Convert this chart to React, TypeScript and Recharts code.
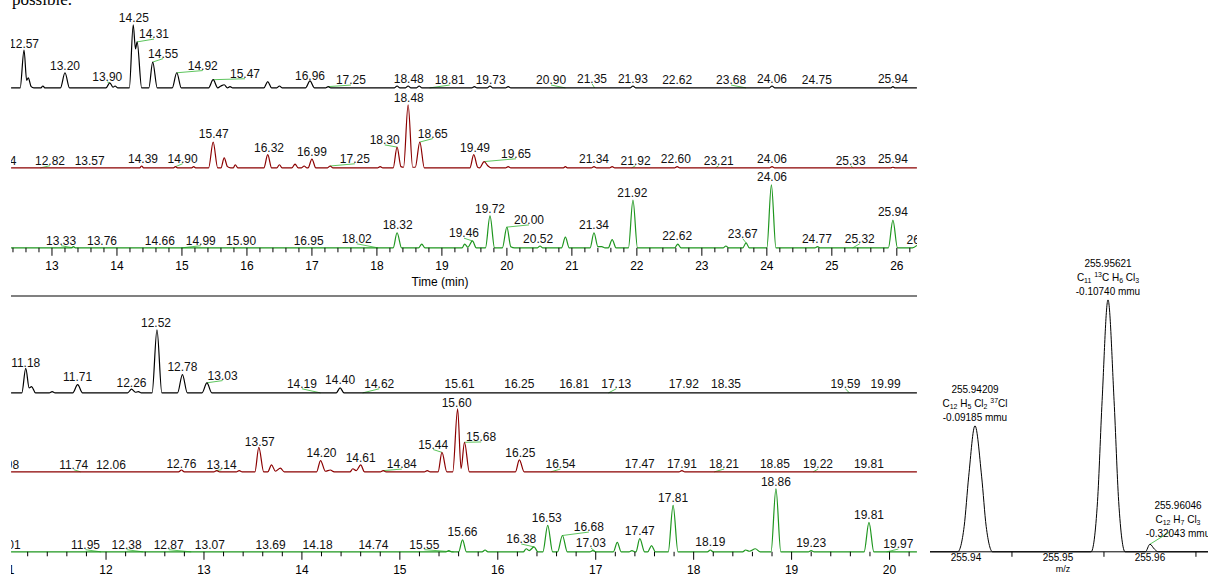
import React from 'react';
import { ComposedChart, Line, Scatter, XAxis, YAxis, ReferenceLine } from 'recharts';

const FONT = '"Liberation Sans", Arial, Helvetica, sans-serif';

type Pt = [number, number];
// [label text, label time, label height, peak time?, peak height?]
type Lbl = [string, number, number, number?, number?];

// ---------- upper run (time axis 12.4 - 26.3 min) ----------
const TOP_DOMAIN: [number, number] = [12.37, 26.31];
const TOP_MAJOR_TICKS = [13, 14, 15, 16, 17, 18, 19, 20, 21, 22, 23, 24, 25, 26];

const topBlack: Pt[] = [
  [12.37, 0], [12.51, 0], [12.57, 60], [12.61, 12], [12.635, 16], [12.68, 2], [12.72, 0],
  [12.83, 0], [12.86, 3], [12.89, 0],
  [13.13, 0], [13.2, 24], [13.27, 0],
  [13.83, 0], [13.89, 8], [13.94, 1], [13.97, 3], [14.01, 0],
  [14.19, 0], [14.25, 100], [14.285, 62], [14.31, 73], [14.38, 0],
  [14.49, 0], [14.55, 41], [14.62, 0],
  [14.85, 0], [14.92, 24], [14.99, 0],
  [15.41, 0], [15.48, 13], [15.55, 0], [15.6, 3], [15.65, 5], [15.7, 0], [15.74, 2], [15.78, 0],
  [16.26, 0], [16.32, 10], [16.38, 0], [16.46, 0], [16.5, 3], [16.54, 0],
  [16.9, 0], [16.97, 11], [17.04, 0],
  [17.21, 0], [17.25, 2], [17.29, 0],
  [18.27, 0], [18.31, 3], [18.35, 0], [18.44, 0], [18.48, 3], [18.52, 0], [18.61, 0], [18.65, 3], [18.69, 0],
  [19.46, 0], [19.5, 2], [19.54, 0], [19.7, 0], [19.74, 3], [19.78, 0], [19.98, 0], [20.02, 2], [20.06, 0],
  [21.9, 0], [21.94, 3], [21.98, 0],
  [24.04, 0], [24.08, 3], [24.12, 0],
  [25.91, 0], [25.94, 2], [25.97, 0], [26.31, 0],
];

const topRed: Pt[] = [
  [12.37, 0], [14.35, 0], [14.38, 3], [14.41, 0], [14.87, 0], [14.9, 2], [14.93, 0], [15.15, 0], [15.18, 2], [15.21, 0],
  [15.41, 0], [15.48, 41], [15.55, 0], [15.6, 0], [15.65, 16], [15.7, 2], [15.75, 0], [15.79, 0], [15.82, 5], [15.86, 0],
  [16.26, 0], [16.32, 21], [16.38, 0], [16.46, 0], [16.5, 5], [16.54, 0],
  [16.69, 0], [16.74, 6], [16.79, 0], [16.84, 0], [16.88, 3], [16.92, 0], [16.94, 0], [17.0, 14], [17.06, 0],
  [17.24, 0], [17.28, 3], [17.32, 0], [18.01, 0], [18.05, 2], [18.09, 0],
  [18.25, 0], [18.31, 33], [18.37, 2], [18.41, 1], [18.48, 100], [18.55, 1], [18.59, 1], [18.66, 41], [18.73, 0],
  [19.43, 0], [19.49, 21], [19.55, 1], [19.58, 0], [19.65, 10], [19.71, 3], [19.76, 0],
  [19.98, 0], [20.02, 2], [20.06, 0], [20.87, 0], [20.9, 2], [20.93, 0], [21.3, 0], [21.34, 2], [21.38, 0],
  [21.58, 0], [21.62, 2], [21.66, 0], [22.58, 0], [22.62, 2], [22.66, 0], [24.04, 0], [24.08, 2], [24.12, 0],
  [25.9, 0], [25.94, 1], [25.98, 0], [26.31, 0],
];

const topGreen: Pt[] = [
  [12.37, 0], [13.3, 0], [13.33, 2], [13.36, 0], [18.25, 0], [18.31, 24], [18.38, 0], [18.64, 0], [18.69, 6], [18.74, 0],
  [19.31, 0], [19.35, 6], [19.4, 1], [19.47, 11], [19.53, 0], [19.67, 0], [19.74, 51], [19.81, 0],
  [19.93, 0], [20.0, 33], [20.06, 2], [20.12, 0],
  [20.47, 0], [20.51, 3], [20.55, 0], [20.84, 0], [20.9, 17], [20.96, 0], [21.28, 0], [21.34, 24], [21.4, 2],
  [21.46, 2], [21.51, 0], [21.56, 0], [21.62, 13], [21.68, 0],
  [21.87, 0], [21.94, 76], [22.01, 0], [22.58, 0], [22.63, 6], [22.68, 0], [23.33, 0], [23.37, 3], [23.41, 0],
  [23.63, 0], [23.68, 8], [23.73, 0], [24.0, 0], [24.07, 100], [24.14, 0], [24.74, 0], [24.78, 2], [24.82, 0],
  [25.87, 0], [25.94, 44], [26.01, 0], [26.24, 0], [26.31, 4],
];

const topBlackLabels: Lbl[] = [
  ['12.57', 12.57, 63], ['13.20', 13.2, 29], ['13.90', 13.85, 11, 13.89, 8], ['14.25', 14.26, 105],
  ['14.31', 14.57, 79, 14.31, 73], ['14.55', 14.71, 48, 14.55, 41], ['14.92', 15.32, 29, 14.92, 24],
  ['15.47', 15.97, 16, 15.48, 13], ['16.96', 16.97, 13], ['17.25', 17.6, 6, 17.25, 2], ['18.48', 18.49, 8],
  ['18.81', 19.12, 6, 18.81, 0], ['19.73', 19.75, 6], ['20.90', 20.68, 6, 20.9, 0], ['21.35', 21.31, 8, 21.35, 0],
  ['21.93', 21.94, 8], ['22.62', 22.62, 6], ['23.68', 23.45, 6, 23.68, 0], ['24.06', 24.08, 8],
  ['24.75', 24.77, 6], ['25.94', 25.94, 8],
];

const topRedLabels: Lbl[] = [
  ['12.34', 12.22, 5], ['12.82', 12.97, 5, 12.82, 0], ['13.57', 13.58, 5], ['14.39', 14.4, 8],
  ['14.90', 15.01, 8, 14.9, 2], ['15.47', 15.49, 48], ['16.32', 16.34, 25], ['16.99', 17.0, 19],
  ['17.25', 17.66, 8, 17.28, 3], ['18.30', 18.12, 38, 18.31, 33], ['18.48', 18.49, 105], ['18.65', 18.86, 48, 18.66, 41],
  ['19.49', 19.51, 25], ['19.65', 20.14, 16, 19.65, 10], ['21.34', 21.34, 8], ['21.92', 21.98, 5, 21.92, 0],
  ['22.60', 22.6, 8], ['23.21', 23.26, 5, 23.21, 0], ['24.06', 24.08, 8], ['25.33', 25.29, 5, 25.33, 0], ['25.94', 25.94, 8],
];

const topGreenLabels: Lbl[] = [
  ['13.33', 13.14, 5, 13.33, 0], ['13.76', 13.77, 5], ['14.66', 14.66, 5], ['14.99', 15.29, 5, 14.99, 0],
  ['15.90', 15.91, 5], ['16.95', 16.95, 5], ['18.02', 17.69, 8, 18.02, 0], ['18.32', 18.32, 30],
  ['19.46', 19.34, 17, 19.47, 11], ['19.72', 19.74, 56], ['20.00', 20.34, 38, 20.0, 33], ['20.52', 20.48, 8],
  ['21.34', 21.34, 30], ['21.92', 21.93, 81], ['22.62', 22.62, 13], ['23.67', 23.63, 16, 23.68, 8],
  ['24.06', 24.08, 106], ['24.77', 24.77, 8], ['25.32', 25.43, 8, 25.32, 0], ['25.94', 25.94, 51],
  ['26.38', 26.38, 6, 26.31, 3],
];

// ---------- lower run (time axis 11.0 - 20.3 min) ----------
const BOTTOM_DOMAIN: [number, number] = [11.03, 20.28];
const BOTTOM_MAJOR_TICKS = [11, 12, 13, 14, 15, 16, 17, 18, 19, 20];

const bottomBlack: Pt[] = [
  [11.03, 0], [11.14, 0], [11.18, 39], [11.215, 8], [11.24, 10], [11.28, 0], [11.42, 0], [11.45, 2], [11.48, 0],
  [11.66, 0], [11.71, 13], [11.76, 0], [12.22, 0], [12.26, 6], [12.3, 1], [12.33, 2], [12.36, 0],
  [12.47, 0], [12.52, 100], [12.57, 0], [12.73, 0], [12.78, 29], [12.83, 0], [12.98, 0], [13.03, 16], [13.08, 0],
  [14.35, 0], [14.39, 8], [14.43, 0], [20.28, 0],
];

const bottomRed: Pt[] = [
  [11.03, 0], [12.74, 0], [12.77, 3], [12.8, 0], [13.1, 0], [13.13, 2], [13.16, 0], [13.33, 0], [13.36, 2], [13.39, 0],
  [13.52, 0], [13.56, 39], [13.61, 0], [13.65, 0], [13.69, 11], [13.73, 1], [13.78, 6], [13.82, 0],
  [14.15, 0], [14.19, 18], [14.24, 1], [14.29, 3], [14.33, 0], [14.49, 0], [14.52, 5], [14.555, 2], [14.6, 11], [14.64, 0],
  [14.8, 0], [14.83, 2], [14.86, 0], [15.25, 0], [15.28, 2], [15.31, 0],
  [15.39, 0], [15.43, 31], [15.48, 0], [15.54, 0], [15.59, 100], [15.625, 5], [15.66, 47], [15.71, 0],
  [16.18, 0], [16.22, 19], [16.27, 0], [17.85, 0], [17.88, 2], [17.91, 0], [20.28, 0],
];

const bottomGreen: Pt[] = [
  [11.03, 0], [15.47, 0], [15.5, 2], [15.53, 0], [15.6, 0], [15.64, 19], [15.68, 0], [15.84, 0], [15.87, 3], [15.9, 0],
  [16.26, 0], [16.29, 5], [16.32, 2], [16.37, 8], [16.41, 0], [16.46, 0], [16.51, 42], [16.56, 0],
  [16.61, 0], [16.66, 26], [16.71, 0], [16.94, 0], [16.97, 2], [17.0, 0],
  [17.18, 0], [17.22, 15], [17.26, 0], [17.34, 0], [17.37, 2], [17.4, 0], [17.41, 0], [17.45, 21], [17.5, 0],
  [17.53, 0], [17.57, 10], [17.61, 0], [17.74, 0], [17.79, 74], [17.84, 0], [18.14, 0], [18.17, 3], [18.2, 0],
  [18.5, 0], [18.53, 3], [18.57, 1], [18.63, 5], [18.68, 0], [18.79, 0], [18.84, 100], [18.89, 0],
  [19.17, 0], [19.2, 2], [19.23, 0], [19.74, 0], [19.79, 47], [19.84, 0], [20.28, 0],
];

const bottomBlackLabels: Lbl[] = [
  ['11.18', 11.18, 41], ['11.71', 11.71, 19], ['12.26', 12.26, 10], ['12.52', 12.51, 105], ['12.78', 12.78, 35],
  ['13.03', 13.19, 21, 13.03, 16], ['14.19', 14.0, 8, 14.19, 0], ['14.40', 14.39, 14], ['14.62', 14.79, 8, 14.62, 0],
  ['15.61', 15.61, 8], ['16.25', 16.22, 8], ['16.81', 16.78, 8], ['17.13', 17.21, 8, 17.13, 0], ['17.92', 17.9, 8],
  ['18.35', 18.33, 8], ['19.59', 19.55, 8, 19.59, 0], ['19.99', 19.96, 8],
];

const bottomRedLabels: Lbl[] = [
  ['10.98', 10.96, 5], ['11.74', 11.67, 5, 11.74, 0], ['12.06', 12.05, 5], ['12.76', 12.77, 6],
  ['13.14', 13.18, 5, 13.13, 2], ['13.57', 13.57, 41], ['14.20', 14.2, 24], ['14.61', 14.6, 16],
  ['14.84', 15.02, 6, 14.83, 2], ['15.44', 15.34, 37, 15.43, 31], ['15.60', 15.58, 103], ['15.68', 15.83, 49, 15.66, 47],
  ['16.25', 16.23, 24], ['16.54', 16.64, 6, 16.54, 0], ['17.47', 17.45, 6], ['17.91', 17.88, 6],
  ['18.21', 18.31, 6, 18.21, 0], ['18.85', 18.83, 6], ['19.22', 19.27, 6, 19.22, 0], ['19.81', 19.79, 6],
];

const bottomGreenLabels: Lbl[] = [
  ['11.01', 10.98, 5], ['11.95', 11.79, 5, 11.95, 0], ['12.38', 12.21, 5, 12.38, 0], ['12.87', 12.64, 5, 12.87, 0],
  ['13.07', 13.06, 5], ['13.69', 13.68, 5], ['14.18', 14.16, 5], ['14.74', 14.73, 5], ['15.55', 15.25, 5, 15.55, 0],
  ['15.66', 15.64, 25], ['16.38', 16.24, 14, 16.37, 8], ['16.53', 16.5, 48], ['16.68', 16.93, 33, 16.66, 26],
  ['17.03', 16.95, 8, 17.0, 0], ['17.47', 17.45, 27], ['17.81', 17.79, 79], ['18.19', 18.17, 10],
  ['18.86', 18.84, 105], ['19.23', 19.2, 8], ['19.81', 19.79, 52], ['19.97', 20.09, 6, 19.97, 0],
];

// ---------- mass spectrum ----------
const SPEC_DOMAIN: [number, number] = [255.93609, 255.96631];
const SPEC_TICKS = [255.94, 255.945, 255.95, 255.955, 255.96, 255.965];

const spectrum: Pt[] = [
  [255.93609, 0], [255.9391, 0], [255.9398, 10], [255.9403, 30], [255.94098, 50], [255.9417, 30], [255.9422, 10], [255.9429, 0],
  [255.9536, 0], [255.9543, 20], [255.9548, 60], [255.95544, 100], [255.9561, 60], [255.9566, 20], [255.9573, 0],
  [255.9595, 0], [255.96, 3], [255.9605, 1], [255.9609, 0], [255.96631, 0],
];

const SPEC_MASSES = ['255.94209', '255.95621', '255.96046'];
const SPEC_ERRORS = ['-0.09185 mmu', '-0.10740 mmu', '-0.32043 mmu'];
const SPEC_FORMULAS: [string, string][][] = [
  [['C', ''], ['12', 'sub'], [' H', ''], ['5', 'sub'], [' Cl', ''], ['2', 'sub'], [' ', ''], ['37', 'sup'], ['Cl', '']],
  [['C', ''], ['11', 'sub'], [' ', ''], ['13', 'sup'], ['C H', ''], ['6', 'sub'], [' Cl', ''], ['3', 'sub']],
  [['C', ''], ['12', 'sub'], [' H', ''], ['7', 'sub'], [' Cl', ''], ['3', 'sub']],
];
const SPEC_LABEL_POS: Pt[] = [[255.94098, 52], [255.95544, 102], [255.96305, 6]];

// layout
const K = 0.63; // px per % in the chromatograms
const Y_MIN = -3;
const Y_MAX = 130;
const LEADER = '#5cc45c';

const minorTicks = (from: number, to: number) => {
  const out: number[] = [];
  for (let i = Math.round(from * 10); i <= Math.round(to * 10); i += 2) out.push(i / 10);
  return out;
};
const TOP_TICKS = minorTicks(TOP_MAJOR_TICKS[0] - 0.6, TOP_MAJOR_TICKS[TOP_MAJOR_TICKS.length - 1] + 0.2);
const BOTTOM_TICKS = minorTicks(BOTTOM_MAJOR_TICKS[0], BOTTOM_MAJOR_TICKS[BOTTOM_MAJOR_TICKS.length - 1] + 0.2);

const PeakLabel = (props: any) => {
  const { cx, cy, payload } = props;
  if (cx == null || cy == null) return null;
  return (
    <text x={cx} y={cy} textAnchor="middle" fontSize={12} fontFamily={FONT} fill="#111">
      {payload.label}
    </text>
  );
};

const TimeTick = (props: any) => {
  const { x, y, payload } = props;
  const v = payload.value;
  const major = Math.abs(v - Math.round(v)) < 1e-6;
  return (
    <g>
      <line x1={x} x2={x} y1={y - 2} y2={y + (major ? 6 : 2.5)} stroke="#000" strokeWidth={1} />
      {major && (
        <text x={x} y={y + 20} textAnchor="middle" fontSize={12} fontFamily={FONT} fill="#000">
          {Math.round(v)}
        </text>
      )}
    </g>
  );
};

interface TraceProps {
  points: Pt[];
  labels: Lbl[];
  color: string;
  domain: [number, number];
  baseline: number;
  ticks?: number[];
}

function Trace({ points, labels, color, domain, baseline, ticks }: TraceProps) {
  const marginTop = 4;
  const plotH = (Y_MAX - Y_MIN) * K;
  const axisH = ticks ? 30 : 0;
  const data = points.map(([t, v]) => ({ t, v }));
  const labelRows = labels.map(([label, t, v]) => ({ t, v, label }));
  const leaders = labels.filter((l) => l[3] !== undefined);
  return (
    <div style={{ position: 'absolute', left: 11, top: baseline - Y_MAX * K - marginTop }}>
      <ComposedChart width={906} height={marginTop + plotH + axisH} data={data} margin={{ top: marginTop, right: 0, bottom: 0, left: 0 }}>
        <XAxis
          type="number"
          dataKey="t"
          domain={domain}
          allowDataOverflow
          hide={!ticks}
          ticks={ticks}
          interval={0}
          axisLine={false}
          tickLine={false}
          tickSize={0}
          tickMargin={0}
          height={axisH}
          tick={TimeTick}
        />
        <YAxis hide domain={[Y_MIN, Y_MAX]} />
        {leaders.map((l, i) => (
          <ReferenceLine
            key={i}
            segment={[{ x: l[3], y: l[4] }, { x: l[1], y: l[2] - 1.5 }]}
            stroke={LEADER}
            strokeWidth={1}
            ifOverflow="visible"
          />
        ))}
        <Line type="monotone" dataKey="v" stroke={color} strokeWidth={1.2} dot={false} isAnimationActive={false} />
        <Scatter data={labelRows} dataKey="v" shape={PeakLabel} isAnimationActive={false} />
      </ComposedChart>
    </div>
  );
}

const formulaSpans = (parts: [string, string][]) => {
  let off = 0;
  return parts.map(([txt, kind], i) => {
    const target = kind === 'sub' ? 2.5 : kind === 'sup' ? -4 : 0;
    const dy = target - off;
    off = target;
    return (
      <tspan key={i} dy={dy} fontSize={kind ? 7 : 10}>
        {txt}
      </tspan>
    );
  });
};

const SpecLabel = (props: any) => {
  const { cx, cy, payload } = props;
  if (cx == null || cy == null) return null;
  const i = payload.idx;
  return (
    <g fontFamily={FONT} fontSize={10} fill="#000">
      <text x={cx} y={cy - 28} textAnchor="middle">{SPEC_MASSES[i]}</text>
      <text x={cx} y={cy - 14} textAnchor="middle">{formulaSpans(SPEC_FORMULAS[i])}</text>
      <text x={cx} y={cy} textAnchor="middle">{SPEC_ERRORS[i]}</text>
    </g>
  );
};

const SpecTick = (props: any) => {
  const { x, y, payload } = props;
  const v = payload.value;
  const major = Math.abs(v * 100 - Math.round(v * 100)) < 1e-6;
  return (
    <g>
      {!major && <line x1={x} x2={x} y1={y} y2={y + 5} stroke="#000" />}
      {major && (
        <text x={x} y={y + 9.5} textAnchor="middle" fontSize={10} fontFamily={FONT} fill="#000">
          {v.toFixed(2)}
        </text>
      )}
    </g>
  );
};

function Spectrum() {
  const kS = 2.52;
  const yMax = 115;
  const marginTop = 20;
  const plotH = yMax * kS;
  const data = spectrum.map(([mz, v]) => ({ mz, v }));
  const labelRows = SPEC_LABEL_POS.map(([mz, v], idx) => ({ mz, v, idx }));
  return (
    <div style={{ position: 'absolute', left: 930, top: 552 - plotH - marginTop }}>
      <ComposedChart width={278} height={marginTop + plotH + 22} data={data} margin={{ top: marginTop, right: 0, bottom: 0, left: 0 }}>
        <XAxis
          type="number"
          dataKey="mz"
          domain={SPEC_DOMAIN}
          ticks={SPEC_TICKS}
          interval={0}
          axisLine={{ stroke: '#000' }}
          tickLine={false}
          tickSize={0}
          tickMargin={0}
          height={22}
          tick={SpecTick}
        />
        <YAxis hide domain={[0, yMax]} />
        <ReferenceLine
          segment={[{ x: spectrum[16][0], y: spectrum[16][1] }, { x: 255.9622, y: 8 }]}
          stroke={LEADER}
          ifOverflow="visible"
        />
        <Line type="monotone" dataKey="v" stroke="#000" strokeWidth={1} dot={false} isAnimationActive={false} />
        <Scatter data={labelRows} dataKey="v" shape={SpecLabel} isAnimationActive={false} />
      </ComposedChart>
    </div>
  );
}

export default function App() {
  return (
    <div style={{ position: 'absolute', left: 0, top: 0, width: 1208, height: 574, overflow: 'hidden', background: '#fff', fontFamily: FONT }}>
      <div style={{ position: 'absolute', left: 12, top: -9, fontFamily: '"Liberation Serif", "Times New Roman", serif', fontSize: 17, lineHeight: '17px' }}>
        possible.
      </div>

      <Trace points={topBlack} labels={topBlackLabels} color="#000" domain={TOP_DOMAIN} baseline={88} />
      <Trace points={topRed} labels={topRedLabels} color="#8b0000" domain={TOP_DOMAIN} baseline={168} />
      <Trace points={topGreen} labels={topGreenLabels} color="#1e961e" domain={TOP_DOMAIN} baseline={248} ticks={TOP_TICKS} />
      <div style={{ position: 'absolute', left: 440, top: 275, transform: 'translateX(-50%)', fontSize: 12, lineHeight: '14px' }}>
        Time (min)
      </div>
      <div style={{ position: 'absolute', left: 11, top: 295, width: 906, height: 2, background: '#808080' }} />

      <Trace points={bottomBlack} labels={bottomBlackLabels} color="#000" domain={BOTTOM_DOMAIN} baseline={393} />
      <Trace points={bottomRed} labels={bottomRedLabels} color="#8b0000" domain={BOTTOM_DOMAIN} baseline={472} />
      <Trace points={bottomGreen} labels={bottomGreenLabels} color="#1e961e" domain={BOTTOM_DOMAIN} baseline={552} ticks={BOTTOM_TICKS} />

      <Spectrum />
      <div style={{ position: 'absolute', left: 1063, top: 564, transform: 'translateX(-50%)', fontSize: 9, lineHeight: '10px' }}>
        m/z
      </div>
    </div>
  );
}
